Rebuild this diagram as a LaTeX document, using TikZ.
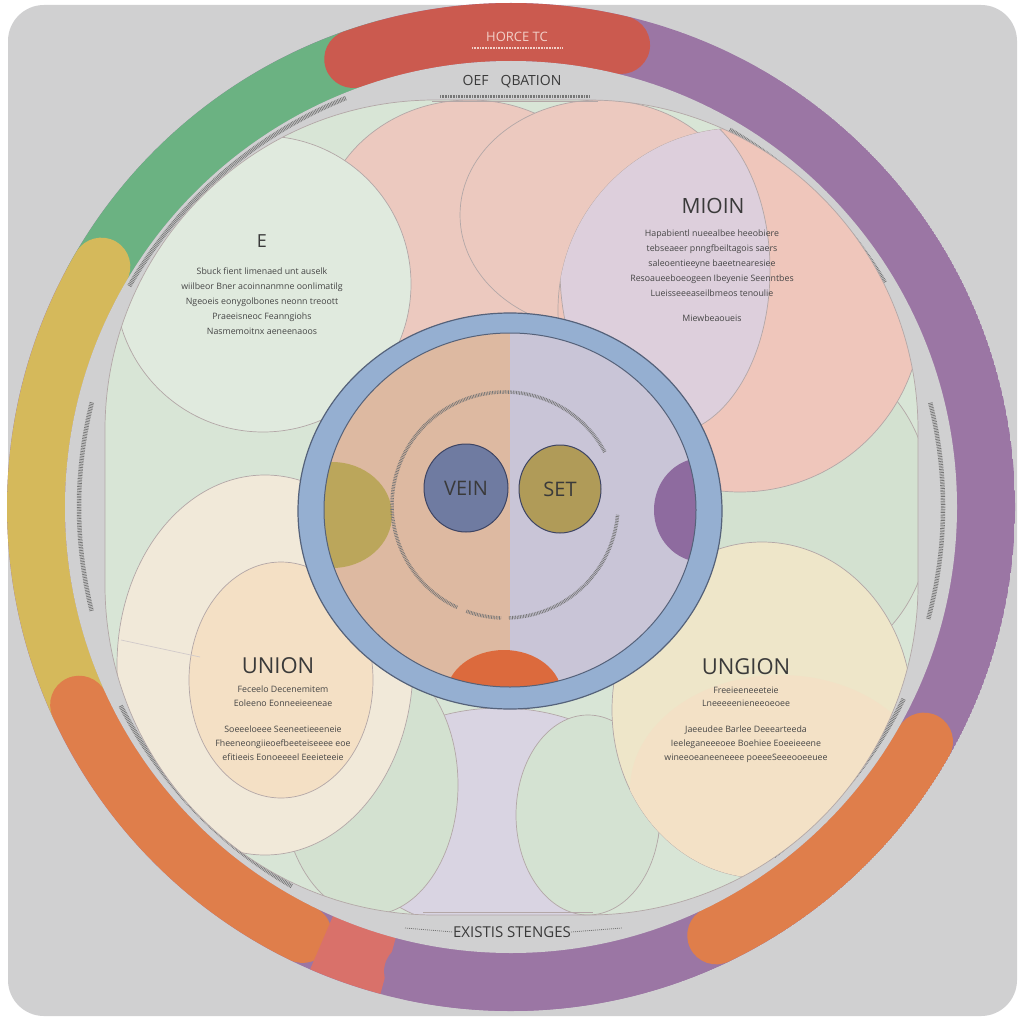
\documentclass[tikz,border=0pt]{standalone}
\usepackage{fontspec}
\setmainfont{Open Sans}
\usetikzlibrary{positioning,shapes.geometric}
\definecolor{bggray}{HTML}{D0D0D1}
\definecolor{ringpurple}{HTML}{9B76A4}
\definecolor{ringgreen}{HTML}{6BB282}
\definecolor{ringred}{HTML}{CB5A4F}
\definecolor{ringyellow}{HTML}{D5B95B}
\definecolor{ringorange}{HTML}{DF7E4B}
\definecolor{ringsalmon}{HTML}{D9716A}
\definecolor{basegreen}{HTML}{D8E5D6}
\definecolor{softgreen}{HTML}{D3E1D0}
\definecolor{palepink}{HTML}{ECC9BF}
\definecolor{rosepink}{HTML}{EFC6BB}
\definecolor{lavpink}{HTML}{DDCFDC}
\definecolor{lavender}{HTML}{D9D4E2}
\definecolor{cream}{HTML}{F1E9D9}
\definecolor{peach}{HTML}{F4E0C5}
\definecolor{butter}{HTML}{EEE6C9}
\definecolor{blobline}{HTML}{B3A7A7}
\definecolor{ringblue}{HTML}{95AFD1}
\definecolor{ringedge}{HTML}{55627A}
\definecolor{innerpeach}{HTML}{DDB9A1}
\definecolor{innerlav}{HTML}{C9C5D7}
\definecolor{olive}{HTML}{BBA65B}
\definecolor{plum}{HTML}{8E6B9F}
\definecolor{tangerine}{HTML}{DC6A3D}
\definecolor{veinblue}{HTML}{6F7BA1}
\definecolor{setolive}{HTML}{B09B58}
\definecolor{vennedge}{HTML}{3D4463}
\definecolor{inkdark}{HTML}{3A3A3A}
\definecolor{inkmid}{HTML}{454545}
\definecolor{inkgray}{HTML}{767676}
\definecolor{titlepink}{HTML}{F2D0C8}
\tikzset{
    band/.style={line width=58pt, line cap=round},
    flatband/.style={line width=58pt, line cap=butt},
    blob/.style={draw=blobline, line width=0.7pt},
    tinytext/.style={draw=inkgray, line width=4.5pt, dash pattern=on 0.7pt off 0.9pt},
    heading/.style={text=inkdark, inner sep=0pt},
    body/.style={text=inkmid, align=center, inner sep=0pt, font=\fontsize{8.8}{15}\selectfont},
    vennset/.style={ellipse, draw=vennedge, line width=1pt, inner sep=0pt, text=inkdark, font=\fontsize{20}{20}\selectfont},
}

\begin{document}
\begin{tikzpicture}[x=1pt,y=-1pt]
    \useasboundingbox (0,0) rectangle (1024,1024);
    \fill[white] (0,0) rectangle (1024,1024);
    \fill[bggray, rounded corners=36pt] (8,5) rectangle (1017,1016);
    % colour ring
    \begin{scope}[shift={(511,507)}]
        \begin{scope}
            \clip (0,0) circle (504);
            \fill[ringpurple] (0,0) circle (504);
            \draw[flatband, ringgreen] (-105:475) arc[start angle=-105, end angle=-152, radius=475];
            \draw[band, ringred] (-76.6:475) arc[start angle=-76.6, end angle=-109.4, radius=475];
            \draw[band, ringyellow] (-149.6:475) arc[start angle=-149.6, end angle=-205, radius=475];
            \draw[band, ringorange] (-204.6:475) arc[start angle=-204.6, end angle=-244, radius=475];
            \draw[flatband, ringsalmon] (-246.5:475) arc[start angle=-246.5, end angle=-255, radius=475];
            \draw[band, ringpurple] (-258.1:475) arc[start angle=-258.1, end angle=-296, radius=475];
            \draw[band, ringorange] (-295.6:475) arc[start angle=-295.6, end angle=-330.4, radius=475];
        \end{scope}
        \fill[bggray] (0,0) circle (446);
        % small print round the band
        \draw[tinytext] (-112:441) arc[start angle=-112, end angle=-150, radius=441];
        \draw[tinytext] (-31:436) arc[start angle=-31, end angle=-60, radius=436];
        \draw[tinytext] (15:432) arc[start angle=15, end angle=-14, radius=432];
        \draw[tinytext] (-166:432) arc[start angle=-166, end angle=-194, radius=432];
        \draw[tinytext] (-207:438) arc[start angle=-207, end angle=-240, radius=438];
        \draw[tinytext] (-307:437) arc[start angle=-307, end angle=-334, radius=437];
    \end{scope}
    % pastel field
    \begin{scope}
        \clip[rounded corners=330pt] (105,100) rectangle (918,915);
        \fill[basegreen] (105,100) rectangle (918,915);
        \filldraw[blob, fill=lavender] (500,820) ellipse [x radius=160, y radius=112];
        \filldraw[blob, fill=softgreen] (370,785) ellipse [x radius=88, y radius=130];
        \filldraw[blob, fill=softgreen!70!basegreen] (588,815) ellipse [x radius=72, y radius=100];
        \filldraw[blob, fill=cream] (265,665) ellipse [x radius=148, y radius=190];
        \filldraw[blob, fill=peach] (281,680) ellipse [x radius=92, y radius=118];
        \filldraw[blob, fill=softgreen] (820,510) ellipse [x radius=112, y radius=150];
        \filldraw[blob, fill=butter] (762,710) ellipse [x radius=150, y radius=168];
        \begin{scope}
            \clip (762,710) ellipse [x radius=150, y radius=168];
            \fill[peach!85!butter] (780,790) ellipse [x radius=150, y radius=115];
        \end{scope}
        \filldraw[blob, fill=palepink] (470,235) ellipse [x radius=150, y radius=135];
        \filldraw[blob, fill=palepink] (600,215) ellipse [x radius=140, y radius=115];
        \filldraw[blob, fill=rosepink] (740,310) circle (182);
        \begin{scope}
            \clip (740,310) circle (182);
            \filldraw[blob, fill=lavpink] (665,270) ellipse [x radius=105, y radius=165];
        \end{scope}
        \filldraw[blob, fill=basegreen!80!white] (263,284) circle (148);
        \draw[blob, draw=blobline!60] (121,640) -- (200,657);
        \draw[blob] (423,912) -- (593,912);
    \end{scope}
    \draw[blob] (105,100) [rounded corners=330pt] rectangle (918,915);
    \draw[blob] (432,101) -- (598,101);
    \draw[tinytext, line width=3pt] (440,97) -- (590,97);
    % centre disc
    \filldraw[fill=ringblue, draw=ringedge, line width=1.2pt] (510,511) ellipse [x radius=212, y radius=198];
    \begin{scope}
        \clip (510,510) ellipse [x radius=186, y radius=177];
        \fill[innerpeach] (320,330) rectangle (510,690);
        \fill[innerlav] (510,330) rectangle (700,690);
        \fill[olive] (332,515) ellipse [x radius=60, y radius=53];
        \fill[plum] (702,510) ellipse [x radius=48, y radius=52];
        \fill[tangerine] (504,696) ellipse [x radius=58, y radius=46];
        \begin{scope}[shift={(505,505)}, tinytext, line width=3.5pt]
            \draw (-28:113) arc[start angle=-28, end angle=-245, radius=113];
            \draw (-250:113) arc[start angle=-250, end angle=-268, radius=113];
            \draw (-272:113) arc[start angle=-272, end angle=-355, radius=113];
        \end{scope}
    \end{scope}
    \draw[ringedge, line width=1pt] (510,510) ellipse [x radius=186, y radius=177];
    \node[vennset, fill=veinblue, minimum width=84pt, minimum height=88pt] (vein) at (466,488) {VEIN};
    \node[vennset, fill=setolive, minimum width=82pt, minimum height=88pt] (set) at (560,489) {SET};
    % headings and small print
    \node[heading, text=titlepink, font=\fontsize{13}{13}\selectfont] (notice) at (517,37) {HORCE TC};
    \draw[tinytext, draw=titlepink, line width=2.5pt] (472,48) -- (562,48);
    \node[heading, font=\fontsize{14}{14}\selectfont] (oef) at (512,82) {OEF\hspace{12pt}QBATION};
    \node[heading, font=\fontsize{18}{18}\selectfont] (e) at (262,241) {E};
    \node[body] (etext) at (262,301) {Sbuck fient limenaed unt auselk\\wiilbeor Bner acoinnanmne oonlimatilg\\Ngeoeis eonygolbones neonn treoott\\Praeeisneoc Feanngiohs\\Nasmemoitnx aeneenaoos};
    \node[heading, font=\fontsize{21}{21}\selectfont] (mioin) at (713,206) {MIOIN};
    \node[body] (mtext) at (712,263) {Hapabientl nueealbee heeobiere\\tebseaeer pnngfbeiltagois saers\\saleoentieeyne baeetnearesiee\\Resoaueeboeogeen Ibeyenie Seenntbes\\Lueisseeeaseilbmeos tenoulie};
    \node[body] (mnote) at (712,318) {Miewbeaoueis};
    \node[heading, font=\fontsize{22}{22}\selectfont] (unionl) at (278,666) {UNION};
    \node[body, font=\fontsize{8.8}{13.5}\selectfont] (ultop) at (283,696) {Feceelo Decenemitem\\Eoleeno Eonneeieeneae};
    \node[body, font=\fontsize{8.8}{14}\selectfont] (ulbot) at (283,743) {Soeeeloeee Seeneetieeeneie\\Fheeneongiieoefbeeteiseeee eoe\\efitieeis Eonoeeeel Eeeieteeie};
    \node[heading, font=\fontsize{22}{22}\selectfont] (unionr) at (746,667) {UNGION};
    \node[body, font=\fontsize{8.8}{13.5}\selectfont] (urtop) at (746,697) {Freeieeneeeteie\\Lneeeeenieneeoeoee};
    \node[body, font=\fontsize{8.8}{14}\selectfont] (urbot) at (746,744) {Jaeeudee Barlee Deeearteeda\\Ieeleganeeeoee Boehiee Eoeeieeene\\wineeoeaneeneeee poeeeSeeeooeeuee};
    \node[heading, font=\fontsize{15}{15}\selectfont] (stages) at (512,932) {EXISTIS STENGES};
    \draw[inkgray, line width=0.8pt, dash pattern=on 1pt off 1pt] (405,928) -- (stages.west);
    \draw[inkgray, line width=0.8pt, dash pattern=on 1pt off 1pt] (stages.east) -- (622,928);
\end{tikzpicture}
\end{document}
